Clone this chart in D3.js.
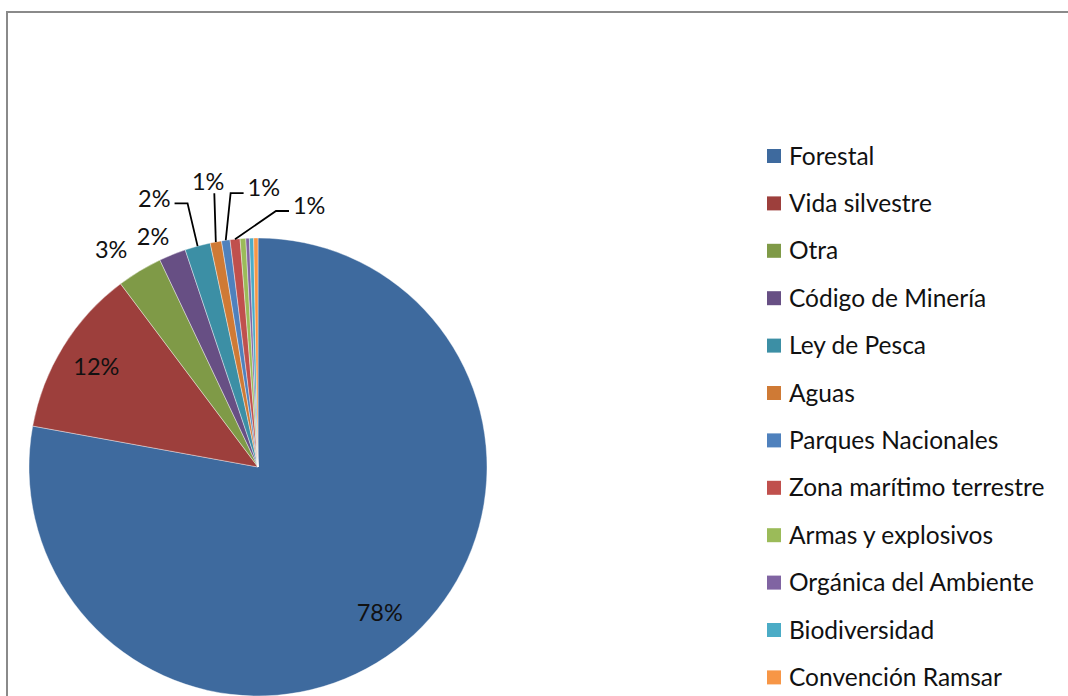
<!DOCTYPE html>
<html>
<head>
<meta charset="utf-8">
<title></title>
<script src="https://d3js.org/d3.v7.min.js"></script>
<style>
  body { margin: 0; background: #fff; }
  svg text { font-family: Lato, "Open Sans", sans-serif; fill: #111; }
</style>
</head>
<body>
<svg id="chart" width="1068" height="696"></svg>
<script>
// data (percent of total)
let categories = ["Forestal", "Vida silvestre", "Otra", "Código de Minería", "Ley de Pesca",
                  "Aguas", "Parques Nacionales", "Zona marítimo terrestre", "Armas y explosivos",
                  "Orgánica del Ambiente", "Biodiversidad", "Convención Ramsar"];
let values = [77.9, 11.9, 3.2, 1.9, 1.8, 0.8, 0.6, 0.7, 0.4, 0.25, 0.3, 0.3];
let labels = ["78%", "12%", "3%", "2%", "2%", "1%", "1%", "1%", null, null, null, null];
let colors = ["#3e6a9e", "#9d3f3c", "#7f9a47", "#674f84", "#3c8fa5", "#cf7a35",
              "#4f81bd", "#c0504d", "#9bbb59", "#8064a2", "#4bacc6", "#f79646"];

// label placement: [angle in degrees clockwise from top, distance from centre], null = inside
let labelSpots = [null, null, [325.9, 262], [335.5, 253], [338.9, 288],
                  [350.1, 290], [1.2, 279], [11.1, 266]];
let withLeader = [false, false, false, false, true, true, true, true];

let svg = d3.select("#chart");
let cx = 258, cy = 467, r = 229;

// chart frame
svg.append("rect").attr("x", 7).attr("y", 12).attr("width", 1200).attr("height", 900)
   .attr("fill", "none").attr("stroke", "#8a8a8a").attr("stroke-width", 2);

let pie = d3.pie().sort(null).value(d => d);
let arcs = pie(values);
let arc = d3.arc().innerRadius(0).outerRadius(r);

let g = svg.append("g").attr("transform", "translate(" + cx + "," + cy + ")");

g.selectAll("path.slice").data(arcs).enter().append("path")
  .attr("class", "slice")
  .attr("d", arc)
  .attr("fill", (d, i) => colors[i])
  .attr("stroke", "#fff").attr("stroke-width", 0.4);

let rad = a => a * Math.PI / 180;
let polar = (a, dist) => [Math.sin(a) * dist, -Math.cos(a) * dist];

arcs.forEach((d, i) => {
  if (!labels[i]) return;
  let mid = (d.startAngle + d.endAngle) / 2;
  let p = labelSpots[i] ? polar(rad(labelSpots[i][0]), labelSpots[i][1]) : polar(mid, r * 0.83);
  let t = g.append("text").attr("x", p[0]).attr("y", p[1]).attr("dy", "0.35em")
    .attr("text-anchor", "middle").style("font-size", "23.5px").text(labels[i]);
  if (!withLeader[i]) return;
  let w = t.node().getComputedTextLength() / 2;
  let edge = polar(mid, r);
  let pts;
  if (edge[0] > p[0] - w && edge[0] < p[0] + w) {
    pts = [[edge[0] - 1.5, p[1] + 12], edge];
  } else {
    let s = edge[0] > p[0] ? 1 : -1;
    let x0 = p[0] + s * (w + 4);
    pts = [[x0, p[1] + 5], [x0 + s * 13, p[1] + 5], edge];
  }
  g.append("path").attr("d", d3.line()(pts))
    .attr("fill", "none").attr("stroke", "#000").attr("stroke-width", 1.8);
});

// legend
let legend = svg.append("g").attr("transform", "translate(767,156)");
let rowStep = 47.4;
let rows = legend.selectAll("g").data(categories).enter().append("g")
  .attr("transform", (d, i) => "translate(0," + (i * rowStep) + ")");
rows.append("rect").attr("x", 0).attr("y", -7).attr("width", 14).attr("height", 14)
  .attr("fill", (d, i) => colors[i]);
rows.append("text").attr("x", 22).attr("y", 0).attr("dy", "0.35em")
  .style("font-size", "24.5px").text(d => d);
</script>
</body>
</html>
